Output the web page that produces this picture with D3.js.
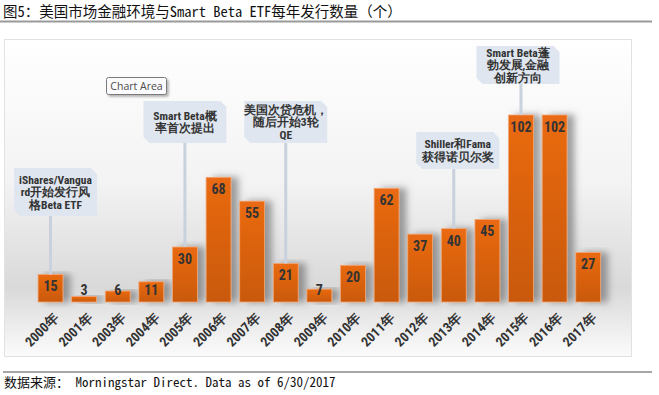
<!DOCTYPE html>
<html>
<head>
<meta charset="utf-8">
<script src="https://cdn.jsdelivr.net/npm/d3@7"></script>
<style>
  body { margin: 0; background: #fff; }
  svg { display: block; }
</style>
</head>
<body>
<script>
var width = 659;
var height = 395;

// data
var years = ["2000年", "2001年", "2003年", "2004年", "2005年", "2006年", "2007年", "2008年", "2009年",
             "2010年", "2011年", "2012年", "2013年", "2014年", "2015年", "2016年", "2017年"];
var counts = [15, 3, 6, 11, 30, 68, 55, 21, 7, 20, 62, 37, 40, 45, 102, 102, 27];

var noteYears = ["2000年", "2005年", "2008年", "2013年", "2015年"];
var noteLines = [
    ["iShares/Vangua", "rd开始发行风", "格Beta ETF"],
    ["Smart Beta概", "率首次提出"],
    ["美国次贷危机，", "随后开始3轮", "QE"],
    ["Shiller和Fama", "获得诺贝尔奖"],
    ["Smart Beta蓬", "勃发展,金融", "创新方向"]
];
// callout box placement: [top, height, x shift]
var noteBox = [[168, 48, 5], [101, 42, 0], [101, 42, 0], [132, 37, 4], [46, 38, -3]];

var titleText = "图5：美国市场金融环境与Smart Beta ETF每年发行数量（个）";
var sourceText = "数据来源： Morningstar Direct. Data as of 6/30/2017";

var cjkMono = "'Noto Sans Mono CJK SC', 'Noto Sans CJK SC', 'Liberation Mono', monospace";
var narrow = "'Liberation Sans Narrow', 'Roboto Condensed', 'DejaVu Sans Condensed', 'Liberation Sans', sans-serif";

var svg = d3.select("body")
    .append("svg")
    .attr("width", width)
    .attr("height", height);

var defs = svg.append("defs");

var bg = defs.append("linearGradient").attr("id", "bg").attr("x1", 0).attr("y1", 0).attr("x2", 0).attr("y2", 1);
bg.append("stop").attr("offset", "0%").attr("stop-color", "#ffffff");
bg.append("stop").attr("offset", "45%").attr("stop-color", "#f3f3f3");
bg.append("stop").attr("offset", "78%").attr("stop-color", "#d9d9d9");
bg.append("stop").attr("offset", "100%").attr("stop-color", "#fbfbfb");

var barGrad = defs.append("linearGradient").attr("id", "barg").attr("x1", 0).attr("y1", 0).attr("x2", 0).attr("y2", 1);
barGrad.append("stop").attr("offset", "0%").attr("stop-color", "#ea6a12");
barGrad.append("stop").attr("offset", "100%").attr("stop-color", "#c9590b");

var shadow = defs.append("filter").attr("id", "shadow")
    .attr("x", "-30%").attr("y", "-10%").attr("width", "190%").attr("height", "130%");
shadow.append("feDropShadow").attr("dx", 7).attr("dy", 0).attr("stdDeviation", 3.5)
    .attr("flood-color", "#555").attr("flood-opacity", 0.55);

var tipShadow = defs.append("filter").attr("id", "tipshadow")
    .attr("x", "-20%").attr("y", "-30%").attr("width", "150%").attr("height", "180%");
tipShadow.append("feDropShadow").attr("dx", 2).attr("dy", 2).attr("stdDeviation", 1.2)
    .attr("flood-color", "#888").attr("flood-opacity", 0.6);

// title and rules
svg.append("text")
    .attr("x", 3)
    .attr("y", 17)
    .attr("font-family", cjkMono)
    .attr("font-size", "14.5px")
    .attr("fill", "#111")
    .text(titleText);

svg.append("line").attr("x1", 0).attr("x2", 652).attr("y1", 21.5).attr("y2", 21.5)
    .attr("stroke", "#9a9a9a").attr("stroke-width", 2);

// chart area
svg.append("rect")
    .attr("x", 4.5).attr("y", 39.5)
    .attr("width", 627).attr("height", 317)
    .attr("fill", "url(#bg)")
    .attr("stroke", "#e2e2e2");

var x = d3.scaleBand()
    .domain(years)
    .range([33.7, 605])
    .paddingInner(0.26)
    .paddingOuter(0.13);

var y = d3.scaleLinear()
    .domain([0, 120])
    .range([302, 82]);

// bars
svg.append("g")
    .selectAll("rect")
    .data(counts)
    .enter()
    .append("rect")
    .attr("x", function(d, i) { return x(years[i]); })
    .attr("y", function(d) { return y(d); })
    .attr("width", x.bandwidth())
    .attr("height", function(d) { return y(0) - y(d); })
    .attr("fill", "url(#barg)")
    .attr("stroke", "#f3a674")
    .attr("stroke-width", 0.8)
    .attr("filter", "url(#shadow)");

svg.append("g")
    .selectAll("text")
    .data(counts)
    .enter()
    .append("text")
    .attr("x", function(d, i) { return x(years[i]) + x.bandwidth() / 2; })
    .attr("y", function(d) { return Math.min(y(d) + 12, y(0) - 12); })
    .attr("dy", "0.35em")
    .attr("text-anchor", "middle")
    .attr("font-family", narrow)
    .attr("font-weight", "bold")
    .attr("font-size", "14px")
    .attr("fill", "#333")
    .text(function(d) { return d; });

// x axis labels
var xAxis = d3.axisBottom(x).tickSize(0).tickPadding(0);
var gx = svg.append("g")
    .attr("transform", "translate(0," + y(0) + ")")
    .call(xAxis);
gx.select(".domain").remove();
gx.selectAll("text")
    .attr("font-family", narrow)
    .attr("font-weight", "bold")
    .attr("font-size", "13.5px")
    .attr("fill", "#333")
    .attr("text-anchor", "end")
    .attr("dy", "0.35em")
    .attr("transform", "translate(6,13) rotate(-45)");

// callouts
var notes = noteYears.map(function(yr, i) {
    var idx = years.indexOf(yr);
    return {
        cx: x(yr) + x.bandwidth() / 2,
        top: noteBox[i][0],
        h: noteBox[i][1],
        shift: noteBox[i][2],
        barTop: y(counts[idx]),
        lines: noteLines[i]
    };
});

var ng = svg.append("g").selectAll("g")
    .data(notes)
    .enter()
    .append("g");

ng.append("line")
    .attr("x1", function(d) { return d.cx; })
    .attr("x2", function(d) { return d.cx; })
    .attr("y1", function(d) { return d.top + d.h - 2; })
    .attr("y2", function(d) { return d.barTop; })
    .attr("stroke", "#c9d1dc")
    .attr("stroke-width", 3);

var bw = 83, cut = 6;
ng.append("path")
    .attr("d", function(d) {
        var l = d.cx + d.shift - bw / 2, r = l + bw, t = d.top, b = d.top + d.h;
        return "M" + l + "," + t + "L" + (r - cut) + "," + t + "L" + r + "," + (t + cut) +
            "L" + r + "," + b + "L" + (l + cut) + "," + b + "L" + l + "," + (b - cut) + "Z";
    })
    .attr("fill", "#dfe6ef");

ng.append("text")
    .attr("font-family", narrow)
    .attr("font-weight", "bold")
    .attr("font-size", "11.5px")
    .attr("fill", "#333")
    .attr("text-anchor", "middle")
    .selectAll("tspan")
    .data(function(d) {
        var n = d.lines.length;
        var mid = d.top + d.h / 2;
        return d.lines.map(function(s, k) {
            return { s: s, x: d.cx + d.shift, y: mid + (k - (n - 1) / 2) * 12.5 };
        });
    })
    .enter()
    .append("tspan")
    .attr("x", function(t) { return t.x; })
    .attr("y", function(t) { return t.y; })
    .attr("dy", "0.35em")
    .text(function(t) { return t.s; });

// "Chart Area" hover tag
var tag = svg.append("g");
tag.append("rect")
    .attr("x", 106.5).attr("y", 77.5)
    .attr("width", 60).attr("height", 17)
    .attr("rx", 2)
    .attr("fill", "#fbfbfd")
    .attr("stroke", "#7a7a7a")
    .attr("filter", "url(#tipshadow)");
tag.append("text")
    .attr("x", 136.5).attr("y", 86.5)
    .attr("dy", "0.35em")
    .attr("text-anchor", "middle")
    .attr("font-family", "'Open Sans', 'Noto Sans', sans-serif")
    .attr("font-size", "10.5px")
    .attr("fill", "#4a4a4a")
    .text("Chart Area");

// source
svg.append("line").attr("x1", 3).attr("x2", 652).attr("y1", 372).attr("y2", 372)
    .attr("stroke", "#888").attr("stroke-width", 1.5);

svg.append("text")
    .attr("x", 4)
    .attr("y", 387)
    .attr("font-family", cjkMono)
    .attr("font-size", "13px")
    .attr("fill", "#111")
    .text(sourceText);
</script>
</body>
</html>
